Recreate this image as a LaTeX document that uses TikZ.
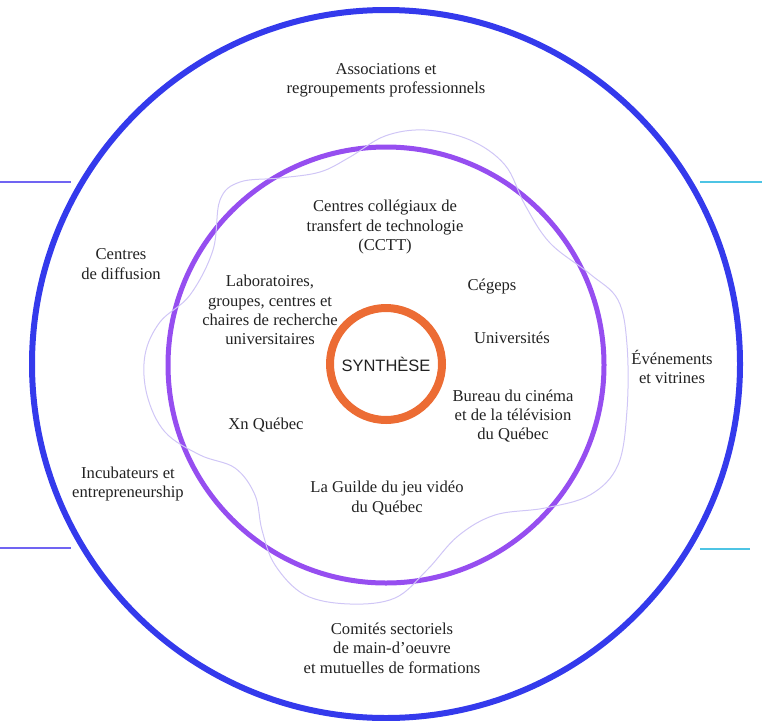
\documentclass[tikz,border=0pt]{standalone}
\usepackage{fontspec}
\setmainfont{Liberation Serif}
\newfontfamily\synthfont{Liberation Sans}
\definecolor{ringblue}{RGB}{52,58,236}
\definecolor{ringviolet}{RGB}{150,78,240}
\definecolor{ringorange}{RGB}{236,108,52}
\definecolor{wavelilac}{RGB}{208,198,246}
\definecolor{tickviolet}{RGB}{112,100,242}
\definecolor{tickcyan}{RGB}{78,196,228}
\definecolor{textgray}{RGB}{34,34,34}

\begin{document}
\begin{tikzpicture}[x=1pt, y=-1pt,
  txt/.style={align=center, text=textgray, inner sep=0pt, font=\fontsize{16.6}{19.3}\selectfont}]
  \useasboundingbox (0,0) rectangle (762,720);
  \coordinate (ctr) at (386,364);
  % rings
  \draw[ringblue, line width=6pt] (ctr) circle (354pt);
  \draw[ringviolet, line width=5pt] (386,365) circle (218pt);
  \draw[ringorange, line width=8pt] (ctr) circle (56pt);
  % wavy outline
  \draw[wavelilac, line width=1pt] plot[smooth cycle, tension=0.6] coordinates {
    (213,250) (220,200) (240,182) (280,178) (320,172) (350,157) (385,136) (425,130)
    (470,140) (505,165) (525,205) (550,243) (590,274) (618,300) (627,345) (627,410)
    (618,465) (590,495) (545,508) (495,515) (458,536) (427,570) (395,598) (350,604)
    (305,595) (275,565) (262,530) (255,495) (235,468) (200,455) (165,432) (147,395)
    (145,355) (160,322) (190,295)};
  % side ticks
  \draw[tickviolet, line width=2pt] (0,182) -- (71,182);
  \draw[tickviolet, line width=2pt] (0,548) -- (71,548);
  \draw[tickcyan, line width=2pt] (700,182) -- (762,182);
  \draw[tickcyan, line width=2pt] (700,549) -- (750,549);
  % centre
  \node[text=textgray, font=\synthfont\fontsize{16.5}{18}\selectfont] (synth) at (386,364) {SYNTHÈSE};
  % outer ring
  \node[txt] (assoc) at (386,80) {Associations et\\regroupements professionnels};
  \node[txt] (diffus) at (121,264) {Centres\\de diffusion};
  \node[txt] (events) at (672,367) {Événements\\et vitrines};
  \node[txt] (incub) at (128,484) {Incubateurs et\\entrepreneurship};
  \node[txt] (comites) at (392,648) {Comités sectoriels\\de main-d’oeuvre\\et mutuelles de formations};
  % inner ring
  \node[txt] (cctt) at (385,227) {Centres collégiaux de\\transfert de technologie\\(CCTT)};
  \node[txt] (labos) at (270,310) {Laboratoires,\\groupes, centres et\\chaires de recherche\\universitaires};
  \node[txt] (cegeps) at (492,287) {Cégeps};
  \node[txt] (univ) at (512,338) {Universités};
  \node[txt] (bureau) at (513,416) {Bureau du cinéma\\et de la télévision\\du Québec};
  \node[txt] (xn) at (266,425) {Xn Québec};
  \node[txt] (guilde) at (387,498) {La Guilde du jeu vidéo\\du Québec};
\end{tikzpicture}
\end{document}
